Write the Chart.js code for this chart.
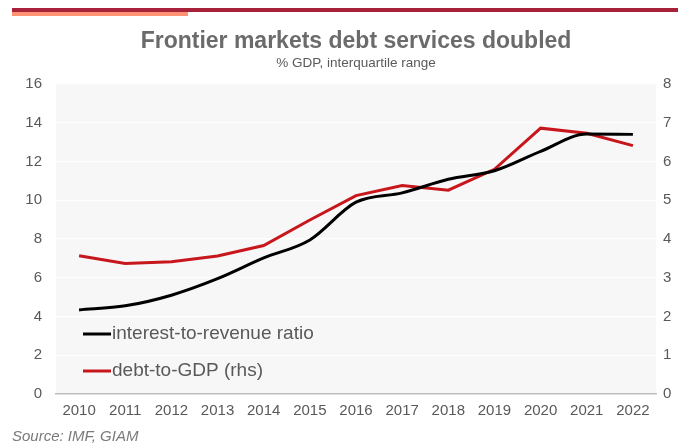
<!DOCTYPE html>
<html>
<head>
<meta charset="utf-8">
<script src="https://cdn.jsdelivr.net/npm/chart.js@4"></script>
<style>
html,body{margin:0;padding:0;background:#fff;}
#wrap{width:678px;height:444px;position:relative;}
</style>
</head>
<body>
<div id="wrap"><canvas id="c" width="678" height="444"></canvas></div>
<script>
const years = ['2010','2011','2012','2013','2014','2015','2016','2017','2018','2019','2020','2021','2022'];
const interestToRevenue = [4.34, 4.55, 5.1, 5.95, 7.02, 7.95, 9.9, 10.38, 11.08, 11.52, 12.52, 13.42, 13.4];
const debtToGDP = [3.57, 3.37, 3.41, 3.56, 3.83, 4.49, 5.12, 5.38, 5.26, 5.8, 6.86, 6.73, 6.41];
const leftTicks = [0, 2, 4, 6, 8, 10, 12, 14, 16];
const rightTicks = [0, 1, 2, 3, 4, 5, 6, 7, 8];
const titleText = 'Frontier markets debt services doubled';
const subtitleText = '% GDP, interquartile range';
const sourceText = 'Source: IMF, GIAM';
const seriesLabels = ['interest-to-revenue ratio', 'debt-to-GDP (rhs)'];

const FONT = '"Liberation Sans", Arial, sans-serif';

const decor = {
  id: 'decor',
  beforeDraw(chart) {
    const ctx = chart.ctx, a = chart.chartArea;
    ctx.save();
    ctx.fillStyle = '#f7f7f7';
    ctx.fillRect(a.left, a.top, a.right - a.left, a.bottom - a.top);
    ctx.fillStyle = '#a8213a';
    ctx.fillRect(12, 8, 666, 4);
    ctx.fillStyle = '#ff9373';
    ctx.fillRect(12, 12, 176, 4);
    ctx.restore();
  },
  afterDraw(chart) {
    const ctx = chart.ctx, a = chart.chartArea;
    const cx = (a.left + a.right) / 2;
    ctx.save();
    ctx.textAlign = 'center';
    ctx.textBaseline = 'middle';
    ctx.fillStyle = '#6b6b6b';
    ctx.font = 'bold 23px ' + FONT;
    ctx.fillText(titleText, cx, 42);
    ctx.font = '13.5px ' + FONT;
    ctx.fillStyle = '#595959';
    ctx.fillText(subtitleText, cx, 63);
    ctx.textAlign = 'left';
    ctx.font = 'italic 15px ' + FONT;
    ctx.fillStyle = '#7a7a7a';
    ctx.fillText(sourceText, 12, 437);
    // legend
    const ys = [334, 371];
    chart.data.datasets.forEach((ds, i) => {
      ctx.strokeStyle = ds.borderColor;
      ctx.lineWidth = 3;
      ctx.beginPath();
      ctx.moveTo(83, ys[i]);
      ctx.lineTo(111, ys[i]);
      ctx.stroke();
      ctx.fillStyle = '#595959';
      ctx.font = '19px ' + FONT;
      ctx.textBaseline = 'middle';
      ctx.fillText(ds.label, 112, ys[i]);
    });
    ctx.restore();
  }
};

new Chart(document.getElementById('c'), {
  type: 'line',
  data: {
    labels: years,
    datasets: [
      {
        label: seriesLabels[0],
        data: interestToRevenue,
        borderColor: '#000000',
        borderWidth: 3,
        pointRadius: 0,
        tension: 0.4,
        cubicInterpolationMode: 'monotone',
        yAxisID: 'y'
      },
      {
        label: seriesLabels[1],
        data: debtToGDP,
        borderColor: '#c8161d',
        borderWidth: 3,
        pointRadius: 0,
        tension: 0,
        yAxisID: 'y2'
      }
    ]
  },
  options: {
    responsive: false,
    animation: false,
    layout: { padding: { top: 84, left: 0, right: 0, bottom: 0 } },
    plugins: { legend: { display: false }, tooltip: { enabled: false }, title: { display: false } },
    scales: {
      x: {
        offset: true,
        grid: { display: false, drawTicks: false },
        border: { display: true, color: '#bfbfbf', width: 1.5 },
        ticks: { color: '#595959', font: { family: FONT, size: 15 }, padding: 8, maxRotation: 0, autoSkip: false },
        afterFit(s) { s.height = 50; }
      },
      y: {
        position: 'left',
        min: 0, max: 16,
        afterBuildTicks(s) { s.ticks = leftTicks.map(v => ({ value: v })); },
        grid: { color: '#ffffff', lineWidth: 1.2, drawTicks: false },
        border: { display: false },
        ticks: { color: '#595959', font: { family: FONT, size: 15 }, padding: 14 },
        afterFit(s) { s.width = 56; }
      },
      y2: {
        position: 'right',
        min: 0, max: 8,
        afterBuildTicks(s) { s.ticks = rightTicks.map(v => ({ value: v })); },
        grid: { display: false, drawTicks: false },
        border: { display: false },
        ticks: { color: '#595959', font: { family: FONT, size: 15 }, padding: 7 },
        afterFit(s) { s.width = 22; }
      }
    }
  },
  plugins: [decor]
});
</script>
</body>
</html>
